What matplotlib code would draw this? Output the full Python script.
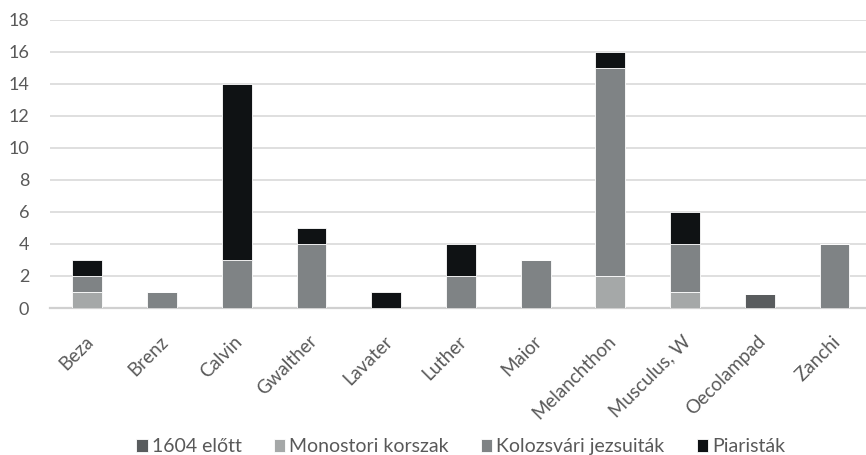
import matplotlib
matplotlib.use("Agg")
import matplotlib.pyplot as plt
import matplotlib.transforms as mtransforms
import numpy as np

plt.rcParams['font.family'] = ['Lato', 'DejaVu Sans']

authors = ["Beza", "Brenz", "Calvin", "Gwalther", "Lavater", "Luther", "Maior",
           "Melanchthon", "Musculus, W", "Oecolampad", "Zanchi"]
series_names = ["1604 előtt", "Monostori korszak", "Kolozsvári jezsuiták", "Piaristák"]
elott_1604 = [0, 0, 0, 0, 0, 0, 0, 0, 0, 0.9, 0]
monostori = [1, 0, 0, 0, 0, 0, 0, 2, 1, 0, 0]
kolozsvari = [1, 1, 3, 4, 0, 2, 3, 13, 3, 0, 4]
piaristak = [1, 0, 11, 1, 1, 2, 0, 1, 2, 0, 0]
y_ticks = [0, 2, 4, 6, 8, 10, 12, 14, 16, 18]

colors = ["#595c5e", "#a5a8a8", "#7f8385", "#0f1214"]
text_color = "#595959"

fig = plt.figure(figsize=(8.66, 4.55), dpi=100)
ax = fig.add_axes([0.0578, 0.323, 0.949, 0.634])

x = np.arange(len(authors))
bottom = np.zeros(len(authors))
for name, vals, c in zip(series_names, [elott_1604, monostori, kolozsvari, piaristak], colors):
    vals = np.array(vals, dtype=float)
    ax.bar(x, vals, 0.4, bottom=bottom, color=c, label=name,
           edgecolor="white", linewidth=0.6, zorder=3)
    bottom += vals

ax.set_xlim(-0.5, len(authors) - 0.5)
ax.set_ylim(0, 18)
ax.set_yticks(y_ticks)
ax.yaxis.grid(True, color="#d9d9d9", linewidth=1.2, zorder=0)
ax.set_axisbelow(True)
for s in ["top", "right", "left"]:
    ax.spines[s].set_visible(False)
ax.spines["bottom"].set_color("#d0d0d0")
ax.spines["bottom"].set_linewidth(1.6)
ax.tick_params(axis="both", length=0, colors=text_color)
ax.tick_params(axis="y", pad=15, labelsize=13)
ax.set_xticks(x)
ax.set_xticklabels(authors, rotation=45, ha="right", va="center",
                   rotation_mode="anchor")
ax.tick_params(axis="x", pad=22, labelsize=13.5)
shift = mtransforms.ScaledTranslation(3 / 100, 0, fig.dpi_scale_trans)
for lbl in ax.get_xticklabels():
    lbl.set_transform(lbl.get_transform() + shift)

leg = fig.legend(loc="center", bbox_to_anchor=(0.532, 0.018), ncol=4, frameon=False,
                 fontsize=14, handlelength=0.6, handleheight=0.6,
                 handletextpad=0.2, columnspacing=1.65)
for t in leg.get_texts():
    t.set_color(text_color)

fig.savefig("out.png", dpi=100)
